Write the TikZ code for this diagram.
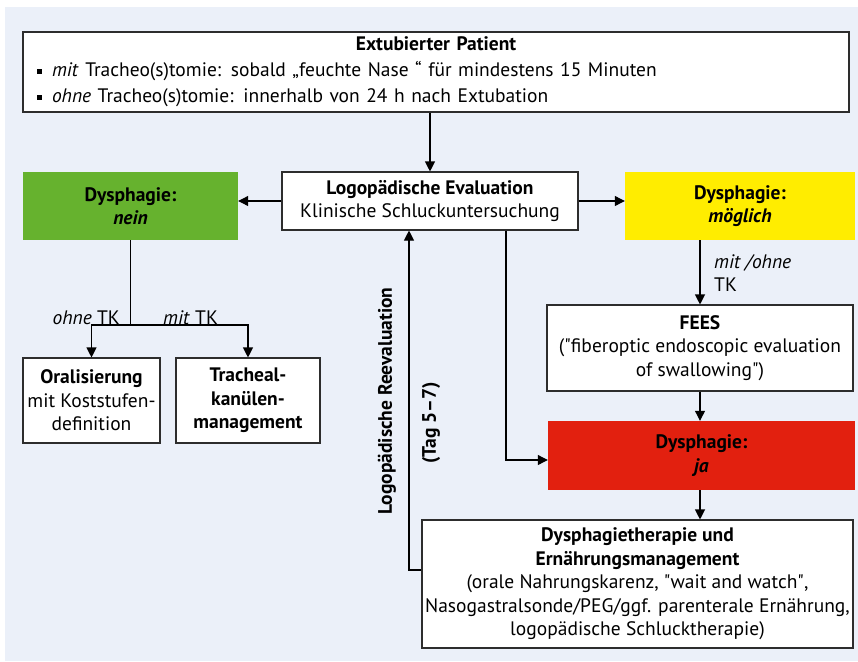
\documentclass[tikz,border=0pt]{standalone}
\usepackage{fontspec}
\setmainfont{PT Sans}
\usetikzlibrary{arrows.meta, positioning, calc}
\definecolor{page_blue}{RGB}{235, 240, 249}
\definecolor{frame_gray}{RGB}{45, 45, 45}
\definecolor{no_green}{RGB}{102, 178, 46}
\definecolor{maybe_yellow}{RGB}{255, 237, 0}
\definecolor{yes_red}{RGB}{226, 32, 15}
\def \sq {\raisebox{3pt}{\rule{5pt}{5pt}}\hspace{10pt}}
\def \qq {\textquotedbl}

\begin{document}
\begin{tikzpicture}[x=1pt, y=-1pt,
    font=\fontsize{19.5}{23.5}\selectfont,
    % Define the white box style
    box/.style 2 args={
        draw=frame_gray,
        line width=1.1pt,
        fill=white,
        align=center,
        inner sep=0pt,
        minimum width=#1,
        minimum height=#2
    },
    % Coloured result box
    result/.style n args={3}{
        fill=#1,
        align=center,
        inner sep=0pt,
        minimum width=#2,
        minimum height=#3
    },
    % Connection style
    flow/.style={
        -{Triangle[length=10pt, width=10pt]},
        line width=1.1pt
    },
    % Edge label style
    tag/.style={
        inner sep=2pt
    }
]

\useasboundingbox (0,0) rectangle (858,661);
\fill[page_blue] (5,7) rectangle (858,661);

% Top box
\node[box={826pt}{80pt}, align=left, text width=798pt, font=\fontsize{19.5}{26}\selectfont] (patient) at (436,72) {%
    \makebox[798pt]{\textbf{Extubierter Patient}}\\
    \sq\textit{mit} Tracheo(s)tomie: sobald „feuchte Nase~“ für mindestens 15 Minuten\\
    \sq\textit{ohne} Tracheo(s)tomie: innerhalb von 24 h nach Extubation};

% Evaluation and the three outcomes
\node[box={296pt}{58pt}] (eval) at (430,201) {\textbf{Logopädische Evaluation}\\Klinische Schluckuntersuchung};
\node[result={no_green}{215pt}{68pt}] (no) at (130.5,206) {\textbf{Dysphagie:}\\\textbf{\textit{nein}}};
\node[result={maybe_yellow}{230pt}{68pt}] (maybe) at (740,206) {\textbf{Dysphagie:}\\\textbf{\textit{möglich}}};
\node[box={306pt}{86pt}] (fees) at (700,348) {\textbf{FEES}\\(\qq fiberoptic endoscopic evaluation\\of swallowing\qq)};
\node[result={yes_red}{307pt}{69pt}] (yes) at (701.5,455.5) {\textbf{Dysphagie:}\\\textbf{\textit{ja}}};
\node[box={431pt}{128pt}] (therapy) at (637.5,584) {\textbf{Dysphagietherapie und}\\\textbf{Ernährungsmanagement}\\(orale Nahrungskarenz, \qq wait and watch\qq,\\Nasogastralsonde/PEG/ggf. parenterale Ernährung,\\logopädische Schlucktherapie)};

% No dysphagia branch
\node[box={137pt}{85pt}] (oral) at (91.5,400.5) {\textbf{Oralisierung}\\mit Koststufen-\\definition};
\node[box={144pt}{85pt}] (canula) at (248,400.5) {\textbf{Tracheal-}\\\textbf{kanülen-}\\\textbf{management}};

\draw[flow] (eval.north |- patient.south) -- (eval.north);
\draw[flow] (eval.west) -- (eval.west -| no.east);
\draw[flow] (eval.east) -- (eval.east -| maybe.west);

\coordinate (split) at (130.5,325);
\draw[line width=1.1pt] (no.south) -- (split);
\draw[flow] (split) -| (oral.north);
\draw[flow] (split) -| (canula.north);
\node[tag, anchor=south east] (ohnetk) at (122,327) {\textit{ohne} TK};
\node[tag, anchor=south west] (mittk) at (161,327) {\textit{mit} TK};

\draw[flow] (maybe.south -| fees.north) -- (fees.north);
\node[tag, anchor=west, align=left] (fees_tk) at (712,273) {\textit{mit /ohne}\\TK};
\draw[flow] (fees.south) -- (fees.south |- yes.north);
\draw[flow] (yes.south -| fees.south) -- (therapy.north -| fees.south);

% Direct path to "ja"
\coordinate (jump) at (506,460);
\draw[flow] (eval.south -| jump) -- (jump) -- (jump -| yes.west);

% Reevaluation loop
\coordinate (back) at (409,570);
\draw[flow] (therapy.west |- back) -- (back) -- (back |- eval.south);
\node[rotate=90] (reeval) at (387,401) {\textbf{Logopädische Reevaluation}};
\node[rotate=90] (days) at (431,423) {\textbf{(Tag 5–7)}};

\end{tikzpicture}
\end{document}
